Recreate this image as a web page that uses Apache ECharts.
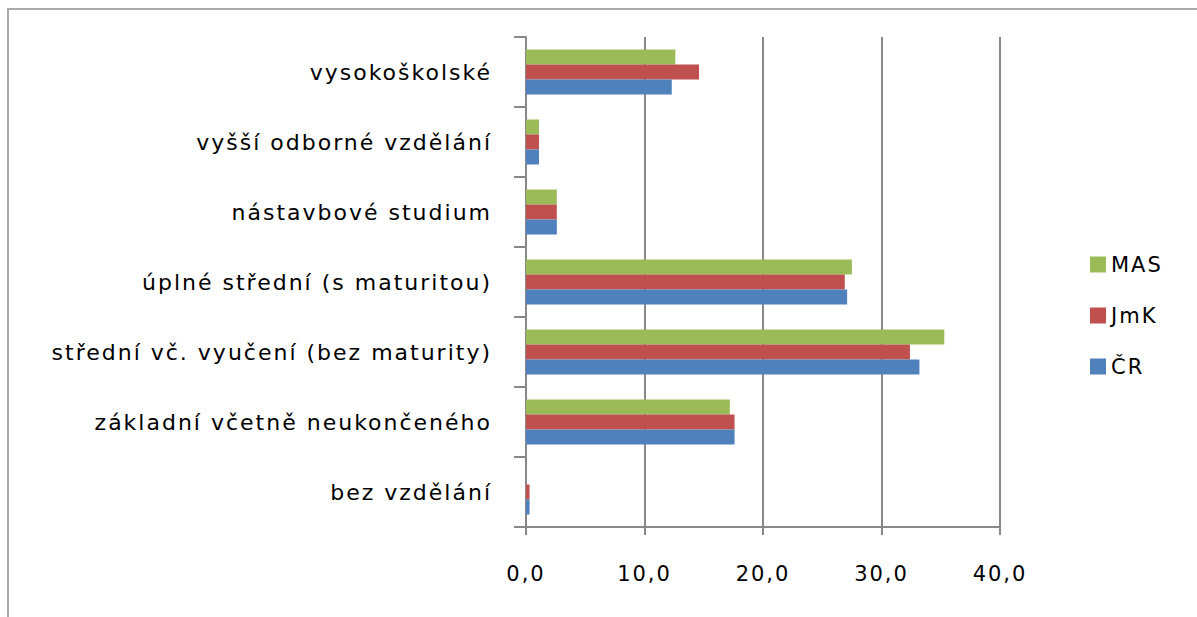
<!DOCTYPE html>
<html>
<head>
<meta charset="utf-8">
<script src="https://cdn.jsdelivr.net/npm/echarts@6/dist/echarts.min.js"></script>
<style>
html,body{margin:0;padding:0;background:#fff;}
#frame{position:absolute;left:7px;top:8px;width:1300px;height:700px;border-left:2px solid #aaa;border-top:2px solid #aaa;box-sizing:border-box;}
#c{position:absolute;left:0;top:0;width:1197px;height:617px;}
#c text{letter-spacing:2px;}
</style>
</head>
<body>
<div id="frame"></div>
<div id="c"></div>
<script>
// categories listed bottom to top
const categories = ["bez vzdělání","základní včetně neukončeného","střední vč. vyučení (bez maturity)","úplné střední (s maturitou)","nástavbové studium","vyšší odborné vzdělání","vysokoškolské"];
const valuesCR  = [0.3, 17.6, 33.2, 27.1, 2.6, 1.1, 12.3];
const valuesJmK = [0.3, 17.6, 32.4, 26.9, 2.6, 1.1, 14.6];
const valuesMAS = [0.0, 17.2, 35.3, 27.5, 2.6, 1.1, 12.6];
const xTicks = [0, 10, 20, 30, 40];

const chart = echarts.init(document.getElementById('c'), null, {renderer:'svg'});
const font = 'DejaVu Sans';
chart.setOption({
  backgroundColor: 'transparent',
  animation: false,
  grid: {left: 526, right: 197, top: 37, bottom: 90, containLabel: false},
  legend: {
    orient: 'vertical', left: 1085, top: 249,
    data: ['MAS','JmK','ČR'],
    itemWidth: 16, itemHeight: 16, itemGap: 30,
    icon: 'rect',
    textStyle: {fontFamily: font, fontSize: 21, color: '#000', padding:[0,0,0,0]}
  },
  xAxis: {
    type: 'value', min: xTicks[0], max: xTicks[xTicks.length-1], interval: 10,
    axisLine: {show: true, lineStyle: {color: '#888', width: 2}},
    axisTick: {show: true, length: 8, lineStyle: {color: '#888', width: 2}},
    splitLine: {show: true, lineStyle: {color: '#888', width: 2}},
    axisLabel: {fontFamily: font, fontSize: 21, color: '#000', margin: 36,
      formatter: v => v.toFixed(1).replace('.', ',')}
  },
  yAxis: {
    type: 'category', data: categories,
    axisLine: {show: true, lineStyle: {color: '#888', width: 2}},
    axisTick: {show: true, length: 12, lineStyle: {color: '#888', width: 2}},
    axisLabel: {fontFamily: font, fontSize: 22, color: '#000', margin: 34}
  },
  series: [
    {name: 'MAS', type: 'bar', data: valuesMAS, barWidth: 15, barGap: '0%', itemStyle: {color: '#9BBB59'}},
    {name: 'JmK', type: 'bar', data: valuesJmK, barWidth: 15, barGap: '0%', itemStyle: {color: '#C0504D'}},
    {name: 'ČR', type: 'bar', data: valuesCR, barWidth: 15, barGap: '0%', itemStyle: {color: '#4F81BD'}}
  ]
});
</script>
</body>
</html>
